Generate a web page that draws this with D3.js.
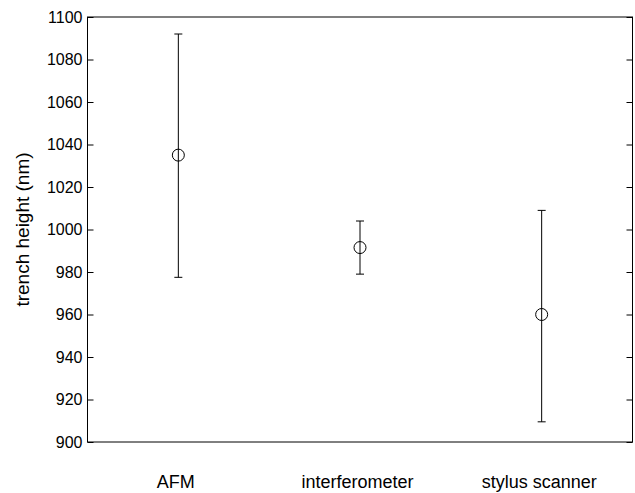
<!DOCTYPE html>
<html>
<head>
<meta charset="utf-8">
<script src="https://cdn.jsdelivr.net/npm/d3@7"></script>
<style>
	body { margin: 0; background: #fff; }
	svg { display: block; font-family: "Liberation Sans", Arial, Helvetica, sans-serif; }
	.axis text { fill: #000; }
	.axis line { stroke: #000; }
</style>
</head>
<body>
<div id="holder" style="width:635px;height:493px"><svg id="chart"></svg></div>
<script>
const categories = ["AFM", "interferometer", "stylus scanner"]
const means = [1035, 991.5, 960]
const lower = [977.5, 979, 909.5]
const upper = [1092, 1004, 1009]
const yTicks = [900, 920, 940, 960, 980, 1000, 1020, 1040, 1060, 1080, 1100]

const margin = { top: 17, right: 2.5, bottom: 51, left: 87.5 }
const holder = document.getElementById("holder")
const viewWidth = holder.clientWidth
const viewHeight = holder.clientHeight
const width = viewWidth - margin.left - margin.right
const height = viewHeight - margin.top - margin.bottom

const svg = d3.select("#chart")
	.attr("width", viewWidth)
	.attr("height", viewHeight)
	.append("g")
	.attr("transform", "translate(" + margin.left + "," + margin.top + ")")

const data = categories.map((c, i) => ({ name: c, mean: means[i], lo: lower[i], hi: upper[i] }))

const x = d3.scalePoint()
	.domain(categories)
	.range([0, width])
	.padding(0.5)

const y = d3.scaleLinear()
	.domain([900, 1100])
	.range([height, 0])

// frame
svg.append("rect")
	.attr("width", width)
	.attr("height", height)
	.attr("fill", "none")
	.attr("stroke", "#000")
	.attr("stroke-width", 1)

// left axis, ticks pointing in
const left = svg.append("g")
	.attr("class", "axis")
	.call(d3.axisLeft(y).tickValues(yTicks).tickFormat(d3.format("d"))
		.tickSizeInner(-6).tickSizeOuter(0).tickPadding(5))
left.select(".domain").remove()
left.selectAll("text").style("font-size", "16px")

// right axis ticks only
const right = svg.append("g")
	.attr("class", "axis")
	.attr("transform", "translate(" + width + ",0)")
	.call(d3.axisRight(y).tickValues(yTicks).tickSizeInner(-6).tickSizeOuter(0).tickFormat(""))
right.select(".domain").remove()

// category labels
const bottom = svg.append("g")
	.attr("class", "axis")
	.attr("transform", "translate(0," + height + ")")
	.call(d3.axisBottom(x).tickSize(0).tickPadding(33))
bottom.select(".domain").remove()
bottom.selectAll("text").style("font-size", "18px").attr("dx", "-3")

svg.append("text")
	.attr("transform", "rotate(-90)")
	.attr("x", -height / 2)
	.attr("y", -margin.left + 29)
	.attr("text-anchor", "middle")
	.style("font-size", "19px")
	.text("trench height (nm)")

// error bars
const capW = 4
const bars = svg.append("g")
	.selectAll("g")
	.data(data)
	.enter()
	.append("g")
	.attr("stroke", "#000")
	.attr("stroke-width", 1)
	.attr("fill", "none")

bars.append("line")
	.attr("x1", d => x(d.name)).attr("x2", d => x(d.name))
	.attr("y1", d => y(d.lo)).attr("y2", d => y(d.hi))
bars.append("line")
	.attr("x1", d => x(d.name) - capW).attr("x2", d => x(d.name) + capW)
	.attr("y1", d => y(d.hi)).attr("y2", d => y(d.hi))
bars.append("line")
	.attr("x1", d => x(d.name) - capW).attr("x2", d => x(d.name) + capW)
	.attr("y1", d => y(d.lo)).attr("y2", d => y(d.lo))
bars.append("circle")
	.attr("cx", d => x(d.name))
	.attr("cy", d => y(d.mean))
	.attr("r", 6)
</script>
</body>
</html>
